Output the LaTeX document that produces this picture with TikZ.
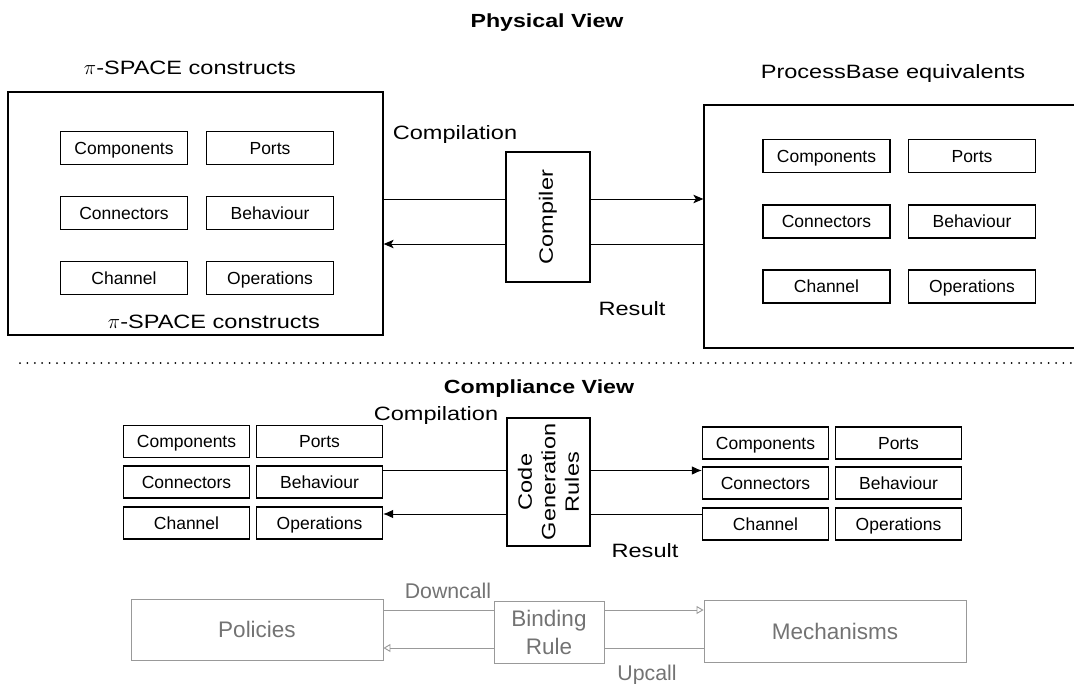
\documentclass[tikz,border=0pt]{standalone}
\usepackage{fontspec}
\setmainfont{Liberation Sans}
\newfontfamily\widesans{Liberation Sans}[FakeStretch=1.22]
\usetikzlibrary{arrows.meta,calc}

\begin{document}
\begin{tikzpicture}[x=1pt,y=-1pt,
  frame/.style={draw, line width=1.3pt, inner sep=0pt},
  item/.style={draw, line width=1.1pt, minimum width=127pt, minimum height=33pt,
    inner sep=0pt, text height=12.5pt, text depth=0pt,
    font=\fontsize{17.5}{20}\selectfont},
  citem/.style={item, minimum width=126pt, minimum height=32pt},
  lbl/.style={font=\widesans\fontsize{19.3}{23}\selectfont, anchor=base, inner sep=0pt},
  heading/.style={lbl, font=\widesans\bfseries\fontsize{19}{23}\selectfont},
  link/.style={line width=1pt},
  tip/.style={link, -{Stealth[length=10pt,width=8.5pt,inset=2.5pt]}},
  ctip/.style={link, -{Latex[length=10pt,width=8.5pt]}},
  soft/.style={draw=black!40, text=black!55, line width=0.9pt},
  gbox/.style={soft, inner sep=0pt, font=\fontsize{22.5}{28}\selectfont},
  gword/.style={gbox, text height=16pt, text depth=0pt},
  glbl/.style={text=black!55, anchor=base, inner sep=0pt, font=\fontsize{21.3}{25}\selectfont},
  gtip/.style={draw=black!40, line width=0.9pt, -{Triangle[open,length=7pt,width=8pt]}},
  gline/.style={draw=black!40, line width=0.9pt}
]
\useasboundingbox (0,0) rectangle (1074,683);
\clip (0,0) rectangle (1074,683);

% ---------------- Physical view ----------------
\node[heading] (phys) at (547,27) {Physical View};
\node[lbl] (srctop) at (190,74) {$\pi$-SPACE constructs};
\node[lbl] (pbase) at (893,78) {ProcessBase equivalents};

\node[frame, minimum width=375pt, minimum height=243pt] (L) at (195.5,213.5) {};
\node[frame, minimum width=380pt, minimum height=243pt] (R) at (894,226.5) {};

\node[item] (lcomp) at (124,148) {Components};
\node[item] (lport) at (270,148) {Ports};
\node[item] (lconn) at (124,213) {Connectors};
\node[item] (lbeh)  at (270,213) {Behaviour};
\node[item] (lchan) at (124,278) {Channel};
\node[item] (lops)  at (270,278) {Operations};
\node[lbl] (srcbot) at (214,328) {$\pi$-SPACE constructs};

\node[item] (rcomp) at (826.5,156) {Components};
\node[item] (rport) at (972,156) {Ports};
\node[item] (rconn) at (826.5,221.5) {Connectors};
\node[item] (rbeh)  at (972,221.5) {Behaviour};
\node[item] (rchan) at (826.5,286.5) {Channel};
\node[item] (rops)  at (972,286.5) {Operations};

\node[frame, minimum width=84pt, minimum height=130pt] (comp) at (548,217) {};
\node[lbl, anchor=center, rotate=90] (comptxt) at (comp.center) {Compiler};
\node[lbl] (compil) at (455,139) {Compilation};
\node[lbl] (result) at (632,315) {Result};

\coordinate (ta) at (0,199);
\coordinate (tb) at (0,244);
\draw[link] (L.east |- ta) -- (comp.west |- ta);
\draw[tip]  (comp.east |- ta) -- (R.west |- ta);
\draw[link] (R.west |- tb) -- (comp.east |- tb);
\draw[tip]  (comp.west |- tb) -- (L.east |- tb);

% separator
\draw[line width=2pt, line cap=round, dash pattern=on 0pt off 7.4pt] (20,363) -- (1074,363);

% ---------------- Compliance view ----------------
\node[heading] (compl) at (539,393) {Compliance View};
\node[lbl] (compil2) at (436,420) {Compilation};
\node[lbl] (result2) at (645,557) {Result};

\node[citem] (acomp) at (186.5,441.5) {Components};
\node[citem] (aport) at (319.5,441.5) {Ports};
\node[citem] (aconn) at (186.5,482) {Connectors};
\node[citem] (abeh)  at (319.5,482) {Behaviour};
\node[citem] (achan) at (186.5,523) {Channel};
\node[citem] (aops)  at (319.5,523) {Operations};

\node[citem] (bcomp) at (765.5,443) {Components};
\node[citem] (bport) at (898.5,443) {Ports};
\node[citem] (bconn) at (765.5,483) {Connectors};
\node[citem] (bbeh)  at (898.5,483) {Behaviour};
\node[citem] (bchan) at (765.5,524) {Channel};
\node[citem] (bops)  at (898.5,524) {Operations};

\node[frame, minimum width=83pt, minimum height=128pt] (cgr) at (548.5,482) {};
\node[lbl, anchor=center, rotate=90, align=center,
  font=\widesans\fontsize{19.3}{23.5}\selectfont] (cgrtxt) at (cgr.center)
  {Code\\Generation\\Rules};

\coordinate (ca) at (0,470.5);
\coordinate (cb) at (0,514);
\draw[link] (abeh.east |- ca) -- (cgr.west |- ca);
\draw[ctip] (cgr.east |- ca) -- (bconn.west |- ca);
\draw[link] (bchan.west |- cb) -- (cgr.east |- cb);
\draw[ctip] (cgr.west |- cb) -- (aops.east |- cb);

% ---------------- Policies and mechanisms ----------------
\node[gword, minimum width=252pt, minimum height=61pt] (pol) at (257,629.5) {Policies};
\node[gbox, minimum width=110pt, minimum height=62pt, align=center] (bind) at (549,632) {Binding\\Rule};
\node[gword, minimum width=262pt, minimum height=62pt] (mech) at (835,631) {Mechanisms};
\node[glbl] (down) at (448,598) {Downcall};
\node[glbl] (up) at (647,680) {Upcall};

\coordinate (ga) at (0,610);
\coordinate (gb) at (0,648);
\draw[gline] (pol.east |- ga) -- (bind.west |- ga);
\draw[gtip]  (bind.east |- ga) -- (mech.west |- ga);
\draw[gline] (mech.west |- gb) -- (bind.east |- gb);
\draw[gtip]  (bind.west |- gb) -- (pol.east |- gb);
\end{tikzpicture}
\end{document}
